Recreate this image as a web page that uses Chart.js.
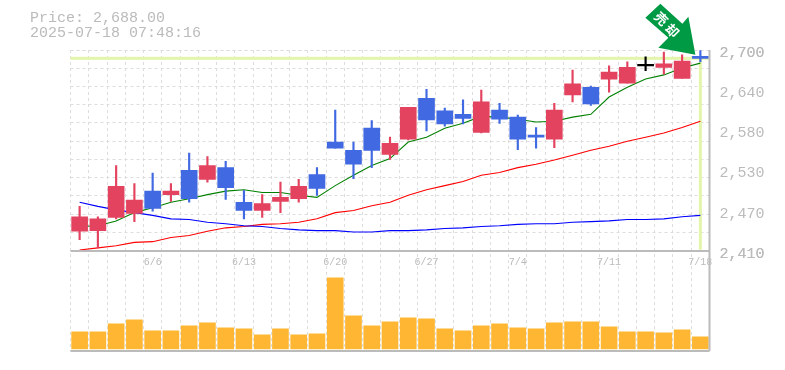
<!DOCTYPE html>
<html>
<head>
<meta charset="utf-8">
<style>
  html, body { margin: 0; padding: 0; background: #fff; }
  #wrap { position: relative; width: 785px; height: 370px; overflow: hidden; }
  #info { position: absolute; left: 30px; top: 11px; font: 15px/15px "Liberation Mono", monospace; color: #bbb; white-space: pre; }
  canvas { position: absolute; left: 0; top: 0; }
</style>
<script src="https://cdn.jsdelivr.net/npm/chart.js@4"></script>
</head>
<body>
<div id="wrap">
  <canvas id="myChart" width="785" height="370"></canvas>
  <div id="info">Price: 2,688.00
2025-07-18 07:48:16</div>
</div>
<script>
const dates = ['6/2','6/3','6/4','6/5','6/6','6/9','6/10','6/11','6/12','6/13','6/16','6/17','6/18','6/19','6/20','6/23','6/24','6/25','6/26','6/27','6/30','7/1','7/2','7/3','7/4','7/7','7/8','7/9','7/10','7/11','7/14','7/15','7/16','7/17','7/18'];
const shownDates = ['6/6','6/13','6/20','6/27','7/4','7/11','7/18'];

const opens  = [2438,2439,2458,2464,2496,2491,2526,2513,2530,2480,2468,2481,2485,2520,2567,2555,2587,2549,2571,2630,2612,2607,2581,2613,2603,2577,2571,2635,2646,2658,2652,2677,2675,2659,2691];
const closes = [2459,2456,2503,2483,2471,2496,2485,2533,2501,2468,2478,2487,2503,2500,2558,2535,2555,2565,2617,2599,2593,2601,2625,2600,2571,2574,2613,2651,2622,2668,2675,2677,2680,2684,2688];
const highs  = [2474,2459,2533,2507,2522,2507,2551,2546,2539,2497,2491,2509,2513,2530,2613,2567,2598,2574,2617,2643,2616,2628,2642,2623,2606,2588,2623,2671,2648,2677,2683,2690,2697,2693,2699];
const lows   = [2426,2414,2456,2452,2467,2481,2480,2509,2484,2456,2458,2465,2480,2490,2558,2514,2530,2542,2570,2583,2590,2593,2580,2594,2556,2558,2559,2625,2620,2639,2652,2670,2665,2659,2683];

const maGreen = [2445,2446,2453,2465,2472,2480,2485,2491,2496,2498,2494,2494,2490,2487,2504,2519,2533,2543,2567,2574,2587,2594,2604,2603,2600,2596,2597,2603,2607,2632,2646,2658,2664,2674,2681];
const maRed   = [2411,2414,2417,2422,2423,2429,2432,2438,2443,2445,2448,2449,2451,2456,2465,2468,2475,2480,2490,2498,2504,2510,2519,2523,2530,2535,2541,2548,2555,2561,2568,2574,2580,2588,2597];
const maBlue  = [2480,2474,2469,2465,2461,2456,2455,2451,2449,2446,2445,2442,2440,2439,2439,2437,2437,2439,2439,2440,2442,2443,2445,2446,2448,2449,2449,2451,2452,2453,2455,2455,2456,2459,2461];

const volumes = [170,170,250,290,180,180,230,260,210,200,140,200,140,150,710,330,230,270,310,300,200,180,230,250,210,200,260,270,270,220,170,170,160,190,120];

const priceTicks  = [2410,2468,2526,2584,2642,2700];
const priceLabels = ['2,410','2,470','2,530','2,580','2,640','2,700'];
const currentPrice = 2688;
const gridSteps = 11;

const upColor = '#e3435f', downColor = '#4169e1', flatColor = '#000000';
const candleColors = opens.map((o, i) => closes[i] > o ? upColor : closes[i] < o ? downColor : flatColor);
const gridValues = [];
for (let i = 0; i <= gridSteps; i++) gridValues.push(2410 + i * 290 / gridSteps);

const decorations = {
  id: 'decorations',
  beforeDatasetsDraw(chart) {
    const { ctx, chartArea, scales } = chart;
    const y = scales.y.getPixelForValue(currentPrice);
    const x = scales.x.getPixelForValue(dates.length - 1);
    ctx.save();
    ctx.fillStyle = '#e2f5ab';
    ctx.fillRect(chartArea.left, y - 1.5, chartArea.width, 3);
    ctx.fillRect(x - 1.5, y, 3, scales.y.getPixelForValue(2410) - y - 1);
    ctx.restore();
  },
  afterDatasetsDraw(chart) {
    const { ctx, chartArea, scales } = chart;
    const mid = Math.round(scales.y.getPixelForValue(2410));
    ctx.save();
    ctx.fillStyle = '#bbbbbb';
    ctx.fillRect(chartArea.left, mid - 1, chartArea.width, 2);
    ctx.fillRect(chartArea.left, chartArea.bottom - 1, chartArea.width, 2);
    ctx.fillRect(chartArea.right - 1, chartArea.top, 2, chartArea.height);

    // arrow hangs off the last candle
    const ax = scales.x.getPixelForValue(dates.length - 1);
    const ay = scales.y.getPixelForValue(highs[highs.length - 1]);
    const shape = [[-40,-47],[-55,-33],[-32,-13],[-42,-3],[-5,4],[-12,-34],[-18,-27]];
    ctx.fillStyle = '#009944';
    ctx.beginPath();
    shape.forEach((p, i) => i ? ctx.lineTo(ax + p[0], ay + p[1]) : ctx.moveTo(ax + p[0], ay + p[1]));
    ctx.closePath();
    ctx.fill();
    ctx.fillStyle = '#ffffff';
    ctx.font = 'bold 13px "Noto Sans CJK JP"';
    ctx.textAlign = 'center';
    ctx.textBaseline = 'middle';
    [['売', -39, -32], ['却', -28, -20]].forEach(t => {
      ctx.save();
      ctx.translate(ax + t[1], ay + t[2]);
      ctx.rotate(Math.PI / 4);
      ctx.fillText(t[0], 0, 0);
      ctx.restore();
    });
    ctx.restore();
  }
};

function maLine(values, color) {
  return { type: 'line', data: values, yAxisID: 'y', borderColor: color, borderWidth: 1.1, pointRadius: 0, tension: 0, order: 3 };
}

new Chart(document.getElementById('myChart'), {
  type: 'bar',
  data: {
    labels: dates,
    datasets: [
      { data: volumes, yAxisID: 'y2', backgroundColor: '#ffb733', barThickness: 16, grouped: false, order: 4 },
      maLine(maBlue, '#0000ff'),
      maLine(maRed, '#ff0000'),
      maLine(maGreen, '#008000'),
      { data: lows.map((l, i) => [l, highs[i]]), yAxisID: 'y', backgroundColor: candleColors, barThickness: 1.5, grouped: false, order: 2 },
      { data: opens.map((o, i) => [o, closes[i]]), yAxisID: 'y', backgroundColor: candleColors, barThickness: 16, minBarLength: 1.5, grouped: false, order: 1 }
    ]
  },
  plugins: [decorations],
  options: {
    responsive: false,
    animation: false,
    layout: { padding: { left: 70.5, top: 50, bottom: 19, right: 0 } },
    plugins: { legend: { display: false }, tooltip: { enabled: false } },
    scales: {
      x: {
        position: { y: 2410 },
        offset: true,
        border: { display: false, dash: [3, 3] },
        grid: { color: '#dddddd', offset: true, drawTicks: false },
        ticks: {
          autoSkip: false, maxRotation: 0, padding: 6, color: '#bbbbbb',
          font: { family: '"Liberation Mono", monospace', size: 10 },
          callback(v) { const d = this.getLabelForValue(v); return shownDates.includes(d) ? d : ''; }
        }
      },
      y: {
        position: 'right',
        stack: 'panes',
        stackWeight: 2,
        min: 2410,
        max: 2700,
        border: { display: false, dash: [3, 3] },
        grid: { color: c => gridValues.includes(c.tick.value) ? '#dddddd' : 'transparent', drawTicks: false },
        afterBuildTicks(axis) { axis.ticks = gridValues.concat(priceTicks).map(value => ({ value })); },
        afterFit(axis) { axis.width = 75.5; },
        ticks: {
          autoSkip: false, padding: 10, color: '#bbbbbb',
          font: { family: '"Liberation Mono", monospace', size: 15, lineHeight: 0.4 },
          callback(v) { const i = priceTicks.indexOf(v); return i < 0 ? '' : ['', priceLabels[i]]; }
        }
      },
      y2: {
        position: 'right',
        stack: 'panes',
        stackWeight: 1,
        min: -20,
        max: 980,
        border: { display: false },
        grid: { display: false, drawTicks: false },
        ticks: { display: false },
        afterFit(axis) { axis.width = 75.5; }
      }
    }
  }
});
</script>
</body>
</html>
